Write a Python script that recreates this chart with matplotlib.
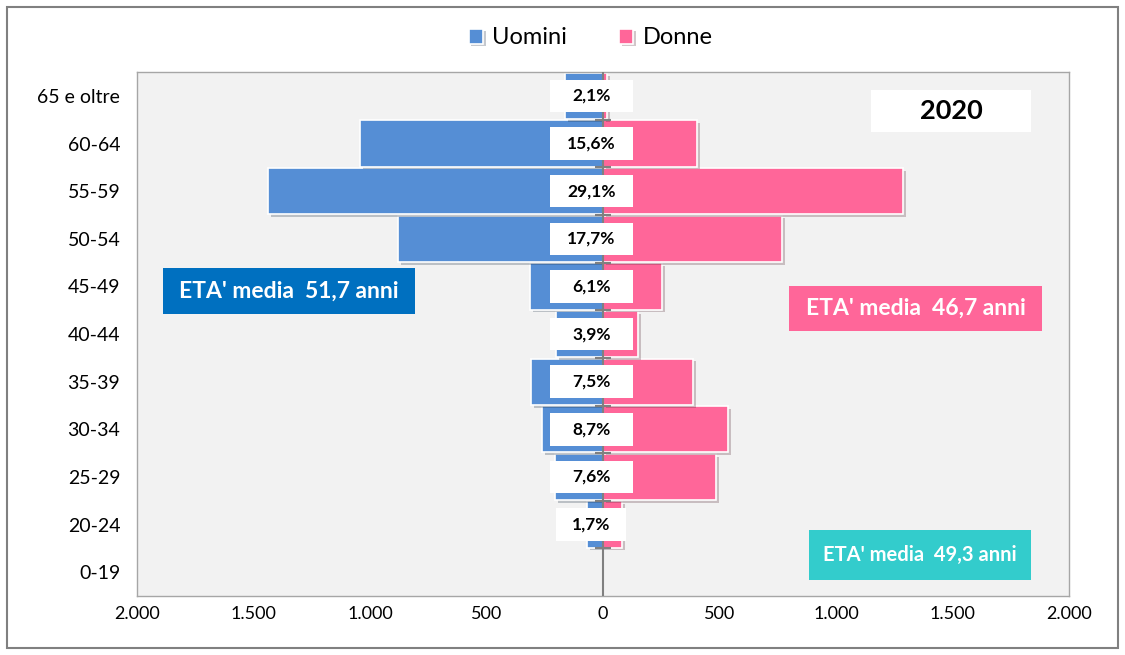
import numpy as np
import matplotlib.pyplot as plt
from matplotlib.patches import Rectangle
from matplotlib.ticker import FuncFormatter
import matplotlib.patheffects as pe

plt.rcParams['font.family'] = ['Lato', 'DejaVu Sans']

# age classes, bottom to top
classi = ['0-19', '20-24', '25-29', '30-34', '35-39', '40-44',
          '45-49', '50-54', '55-59', '60-64', '65 e oltre']
uomini = [0, 69, 206, 262, 309, 202, 313, 880, 1438, 1043, 163]
donne = [0, 82, 485, 536, 386, 150, 253, 768, 1288, 403, 17]
quote = ['', '1,7%', '7,6%', '8,7%', '7,5%', '3,9%', '6,1%',
         '17,7%', '29,1%', '15,6%', '2,1%']

blu = '#558ED5'
rosa = '#FF6699'

fig = plt.figure(figsize=(11.25, 6.55), dpi=100)
ax = fig.add_axes([0.1218, 0.090, 0.8284, 0.800])
ax.set_facecolor('#F2F2F2')

y = np.arange(len(classi))
shadow = [pe.SimplePatchShadow(offset=(2, -2), alpha=0.25), pe.Normal()]
b1 = ax.barh(y, -np.array(uomini), height=0.97, color=blu, edgecolor='white',
             linewidth=1.2, label='Uomini', zorder=2)
b2 = ax.barh(y, donne, height=0.97, color=rosa, edgecolor='white',
             linewidth=1.2, label='Donne', zorder=2)
for b in list(b1) + list(b2):
    b.set_path_effects(shadow)

# category axis at zero with cross ticks
ax.axvline(0, color='#808080', lw=1.5, zorder=3)
ax.plot(np.zeros(len(classi) - 1), y[:-1] + 0.5, marker='_', ms=12,
        mew=1.5, color='#808080', ls='none', zorder=3)

# percentage labels in white boxes
for yi, q in zip(y, quote):
    if not q:
        continue
    w = 300 if q == '1,7%' else 355
    ax.add_patch(Rectangle((-50 - w / 2, yi - 0.34), w, 0.68, facecolor='white',
                           edgecolor='none', zorder=4))
    ax.text(-50, yi, q, ha='center', va='center', fontsize=12.5,
            fontweight='bold', color='black', zorder=5)

ax.set_xlim(-2000, 2000)
ax.set_ylim(-0.5, 10.5)
ax.set_yticks(y)
ax.set_yticklabels(classi, fontsize=14)
ax.set_xticks(np.arange(-2000, 2001, 500))
ax.xaxis.set_major_formatter(FuncFormatter(
    lambda v, p: f'{abs(int(v)):,}'.replace(',', '.')))
ax.tick_params(axis='x', labelsize=13, length=0, pad=7)
ax.tick_params(axis='y', length=0, pad=12)
for s in ax.spines.values():
    s.set_color('#A6A6A6')
    s.set_linewidth(1)

# text boxes
def box(x0, y0, x1, y1, txt, fc, tc, size):
    fig.patches.append(Rectangle((x0 / 1125, 1 - y1 / 655), (x1 - x0) / 1125,
                                 (y1 - y0) / 655, transform=fig.transFigure,
                                 facecolor=fc, edgecolor='none', zorder=6))
    fig.text((x0 + x1) / 2250, 1 - (y0 + y1) / 1310, txt, ha='center',
             va='center', fontsize=size, fontweight='bold', color=tc, zorder=7)

box(163, 268, 415, 314, "ETA' media  51,7 anni", '#0070C0', 'white', 16.5)
box(789, 286, 1042, 331, "ETA' media  46,7 anni", rosa, 'white', 16.5)
box(809, 530, 1031, 580, "ETA' media  49,3 anni", '#33CCCC', 'white', 14.5)
box(871, 90, 1031, 132, '2020', 'white', 'black', 19.5)

fig.legend(handles=[b1, b2], loc='center', bbox_to_anchor=(0.525, 0.942),
           ncol=2, frameon=False, fontsize=17, handlelength=0.6,
           handleheight=0.6, columnspacing=2.2, handletextpad=0.4)

# outer frame
fig.patches.append(Rectangle((7 / 1125, 7 / 655), 1111 / 1125, 641 / 655,
                             transform=fig.transFigure, fill=False,
                             edgecolor='#808080', lw=1.5))

fig.savefig('out.png', dpi=100)
